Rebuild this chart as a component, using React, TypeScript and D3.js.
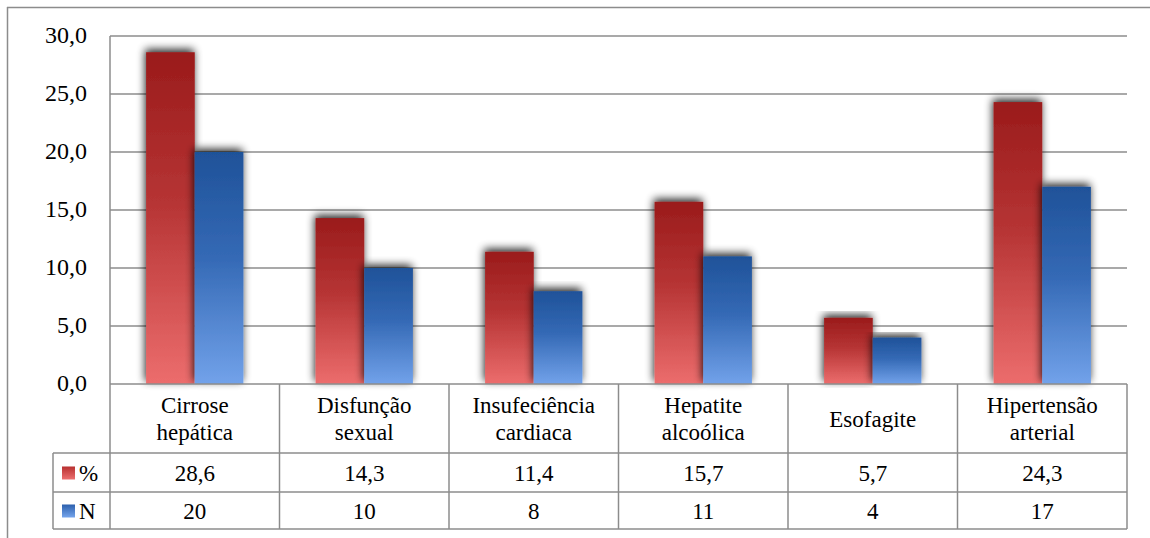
import React from 'react';
import * as d3 from 'd3';

const categories = [
  ['Cirrose', 'hepática'],
  ['Disfunção', 'sexual'],
  ['Insufeciência', 'cardiaca'],
  ['Hepatite', 'alcoólica'],
  ['Esofagite'],
  ['Hipertensão', 'arterial'],
];
const pctValues = [28.6, 14.3, 11.4, 15.7, 5.7, 24.3];
const nValues = [20, 10, 8, 11, 4, 17];
const yTicks = [0, 5, 10, 15, 20, 25, 30];

const W = 1150;
const H = 538;
const left = 110;
const right = 1127;
const top = 36;
const bottom = 384;
const catRow = 453;
const pctRow = 492;
const nRow = 529;
const legendLeft = 53;

const fmt = (v: number) => v.toFixed(1).replace('.', ',');

const serif = "'Liberation Serif'";
const ts = (size: number): React.CSSProperties => ({ fontFamily: serif, fontSize: size });

export default function App() {
  const x = d3.scaleBand<number>().domain(d3.range(categories.length)).range([left, right]);
  const y = d3.scaleLinear().domain([0, 30]).range([bottom, top]);
  const barW = x.bandwidth() * 0.287;
  const lineColor = '#8c8c8c';

  const series = [
    { key: '%', values: pctValues, grad: 'gRed', row: [catRow, pctRow], label: (i: number) => fmt(pctValues[i]) },
    { key: 'N', values: nValues, grad: 'gBlue', row: [pctRow, nRow], label: (i: number) => String(nValues[i]) },
  ];

  return (
    <svg width={W} height={H} style={{ position: 'absolute', left: 0, top: 0 }}>
      <style>{`text, tspan { font-family: 'Liberation Serif' !important; }`}</style>
      <defs>
        <linearGradient id="gRed" x1="0" y1="0" x2="0" y2="1">
          <stop offset="0" stopColor="#9a1b1b" />
          <stop offset="0.45" stopColor="#b63434" />
          <stop offset="1" stopColor="#ec6d6d" />
        </linearGradient>
        <linearGradient id="gBlue" x1="0" y1="0" x2="0" y2="1">
          <stop offset="0" stopColor="#1f5299" />
          <stop offset="0.45" stopColor="#3469b5" />
          <stop offset="1" stopColor="#72a2ea" />
        </linearGradient>
        <linearGradient id="lgRed" x1="0" y1="0" x2="0" y2="1">
          <stop offset="0" stopColor="#b83030" />
          <stop offset="1" stopColor="#ec7070" />
        </linearGradient>
        <linearGradient id="lgBlue" x1="0" y1="0" x2="0" y2="1">
          <stop offset="0" stopColor="#2c60ad" />
          <stop offset="1" stopColor="#76a5ec" />
        </linearGradient>
        <filter id="shadow" x="-30%" y="-10%" width="160%" height="120%">
          <feGaussianBlur in="SourceAlpha" stdDeviation="4" />
          <feOffset dx="-1" dy="-3" />
          <feComponentTransfer>
            <feFuncA type="linear" slope="0.85" />
          </feComponentTransfer>
          <feMerge>
            <feMergeNode />
            <feMergeNode in="SourceGraphic" />
          </feMerge>
        </filter>
      </defs>

      {/* outer frame */}
      <line x1={7} x2={W} y1={7.5} y2={7.5} stroke={lineColor} strokeWidth={1.5} />
      <line x1={7.5} x2={7.5} y1={7} y2={H} stroke={lineColor} strokeWidth={1.5} />

      {/* gridlines + y labels */}
      {yTicks.map((t) =>
        t > 0 ? <line key={'g' + t} x1={left} x2={right} y1={y(t)} y2={y(t)} stroke={lineColor} strokeWidth={1.5} /> : null
      )}
      {yTicks.map((t) => (
        <text key={'t' + t} x={87} y={y(t)} dy="0.3em" textAnchor="end" fontFamily="Liberation Serif" style={ts(24)} fill="#000">
          {fmt(t)}
        </text>
      ))}
      <line x1={left} x2={left} y1={top} y2={bottom} stroke={lineColor} strokeWidth={1.5} />

      {/* bars */}
      {series.map((s, si) =>
        s.values.map((v, i) => {
          const cx = x(i)! + x.bandwidth() / 2;
          const bx = si === 0 ? cx - barW : cx;
          return (
            <rect
              key={`${s.key}-${i}`}
              x={bx}
              y={y(v)}
              width={barW}
              height={bottom - y(v)}
              fill={`url(#${s.grad})`}
              filter="url(#shadow)"
            />
          );
        })
      )}

      {/* data table */}
      <g stroke={lineColor} strokeWidth={1.5} fill="none">
        <line x1={left} x2={right} y1={bottom} y2={bottom} />
        <line x1={legendLeft} x2={right} y1={catRow} y2={catRow} />
        <line x1={legendLeft} x2={right} y1={pctRow} y2={pctRow} />
        <line x1={legendLeft} x2={right} y1={nRow} y2={nRow} />
        <line x1={legendLeft} x2={legendLeft} y1={catRow} y2={nRow} />
        {d3.range(categories.length + 1).map((i) => {
          const xx = i < categories.length ? x(i)! : right;
          return <line key={i} x1={xx} x2={xx} y1={bottom} y2={nRow} />;
        })}
      </g>

      {categories.map((c, i) => {
        const cx = x(i)! + x.bandwidth() / 2;
        const mid = (bottom + catRow) / 2;
        return c.map((ln, j) => (
          <text
            key={`${i}-${j}`}
            x={cx}
            y={mid + (j - (c.length - 1) / 2) * 27}
            dy="0.35em"
            textAnchor="middle"
            fontFamily="Liberation Serif"
            style={ts(23)}
            fill="#000"
          >
            {ln}
          </text>
        ));
      })}

      {series.map((s, si) => (
        <g key={s.key}>
          <rect
            x={62}
            y={(s.row[0] + s.row[1]) / 2 - 6}
            width={13}
            height={13}
            fill={si === 0 ? 'url(#lgRed)' : 'url(#lgBlue)'}
          />
          <text x={79} y={(s.row[0] + s.row[1]) / 2} dy="0.35em" fontFamily="Liberation Serif" style={ts(23)} fill="#000">
            {s.key}
          </text>
          {s.values.map((_, i) => (
            <text
              key={i}
              x={x(i)! + x.bandwidth() / 2}
              y={(s.row[0] + s.row[1]) / 2}
              dy="0.35em"
              textAnchor="middle"
              fontFamily="Liberation Serif"
              style={ts(23)}
              fill="#000"
            >
              {s.label(i)}
            </text>
          ))}
        </g>
      ))}
    </svg>
  );
}
